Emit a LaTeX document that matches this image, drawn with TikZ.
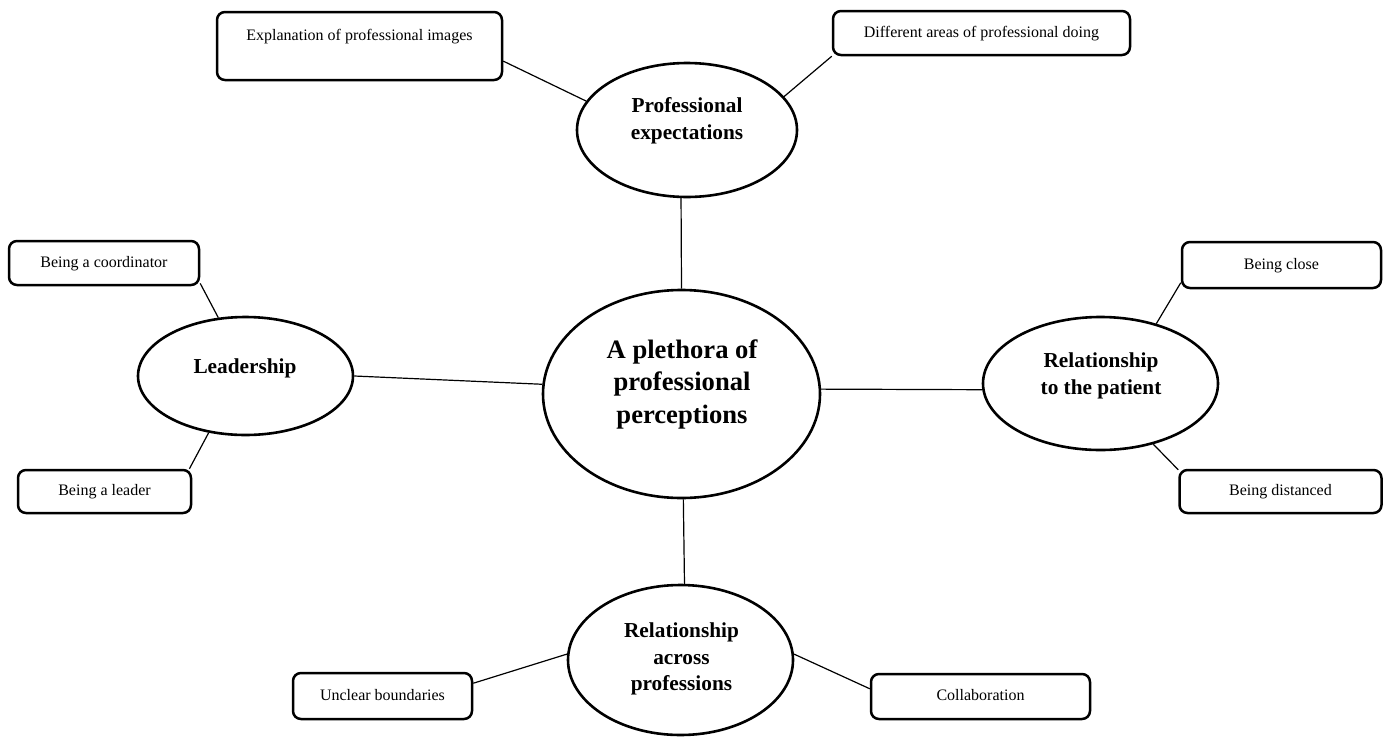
\documentclass[tikz,border=0pt]{standalone}
\usepackage{fontspec}
\setmainfont{Liberation Serif}
\usetikzlibrary{shapes.geometric}
\begin{document}
\begin{tikzpicture}[x=1pt,y=-1pt,
  box/.style={draw, line width=2.5pt, rounded corners=8pt, inner sep=0pt,
    text height=11.5pt, text depth=3.5pt, font=\fontsize{16}{19}\selectfont},
  oval/.style={draw, ellipse, line width=2.6pt, inner sep=0pt},
  subtxt/.style={align=center, inner sep=0pt, font=\fontsize{21.3}{26.5}\selectfont\bfseries},
  maintxt/.style={align=center, inner sep=0pt, font=\fontsize{26.6}{32.5}\selectfont\bfseries},
  link/.style={line width=1.2pt}]
\useasboundingbox (0,0) rectangle (1384,737);

% boxes
\node[box, minimum width=285pt, text height=28pt, text depth=40pt] (expl) at (359.5,46) {Explanation of professional images};
\node[box, minimum width=297pt, minimum height=44pt] (diff) at (981.5,33) {Different areas of professional doing};
\node[box, minimum width=190pt, minimum height=44pt] (coord) at (104,263) {Being a coordinator};
\node[box, minimum width=173pt, minimum height=43pt] (leader) at (104.5,491.5) {Being a leader};
\node[box, minimum width=199pt, minimum height=46pt] (close) at (1281.5,265) {Being close};
\node[box, minimum width=202pt, minimum height=43pt] (dist) at (1280.5,491.5) {Being distanced};
\node[box, minimum width=179pt, minimum height=46pt] (unclear) at (382.5,696) {Unclear boundaries};
\node[box, minimum width=219pt, minimum height=45pt] (collab) at (980.5,696.5) {Collaboration};

% ellipses
\node[oval, minimum width=220pt, minimum height=134pt] (pe) at (687,130) {};
\node[oval, minimum width=277pt, minimum height=208pt] (c) at (681.5,394) {};
\node[oval, minimum width=215pt, minimum height=118pt] (lead) at (245.5,376) {};
\node[oval, minimum width=235pt, minimum height=133pt] (rp) at (1100.5,383.5) {};
\node[oval, minimum width=225pt, minimum height=150pt] (rap) at (680.5,660) {};

% ellipse texts
\node[subtxt] (pe-t) at (687,121) {Professional\\expectations};
\node[maintxt] (c-t) at (682,384) {A plethora of\\professional\\perceptions};
\node[subtxt] (lead-t) at (245,368) {Leadership};
\node[subtxt] (rp-t) at (1101,376) {Relationship\\to the patient};
\node[subtxt] (rap-t) at (681.5,659) {Relationship\\across\\professions};

% connectors
\draw[link] (expl.-6) -- (pe.164);
\draw[link] (diff.south west) -- (pe.19);
\draw[link] (pe.-95) -- (c.90);
\draw[link] (lead.east) -- (c.176);
\draw[link] (c.2) -- (rp.183);
\draw[link] (c.-89) -- (rap.87);
\draw[link] (coord.-12) -- (lead.115);
\draw[link] (lead.237) -- (leader.15);
\draw[link] (rp.47) -- (close.190);
\draw[link] (rp.-49) -- (dist.168);
\draw[link] (rap.177) -- (unclear.8);
\draw[link] (rap.3) -- (collab.176);
\end{tikzpicture}
\end{document}
